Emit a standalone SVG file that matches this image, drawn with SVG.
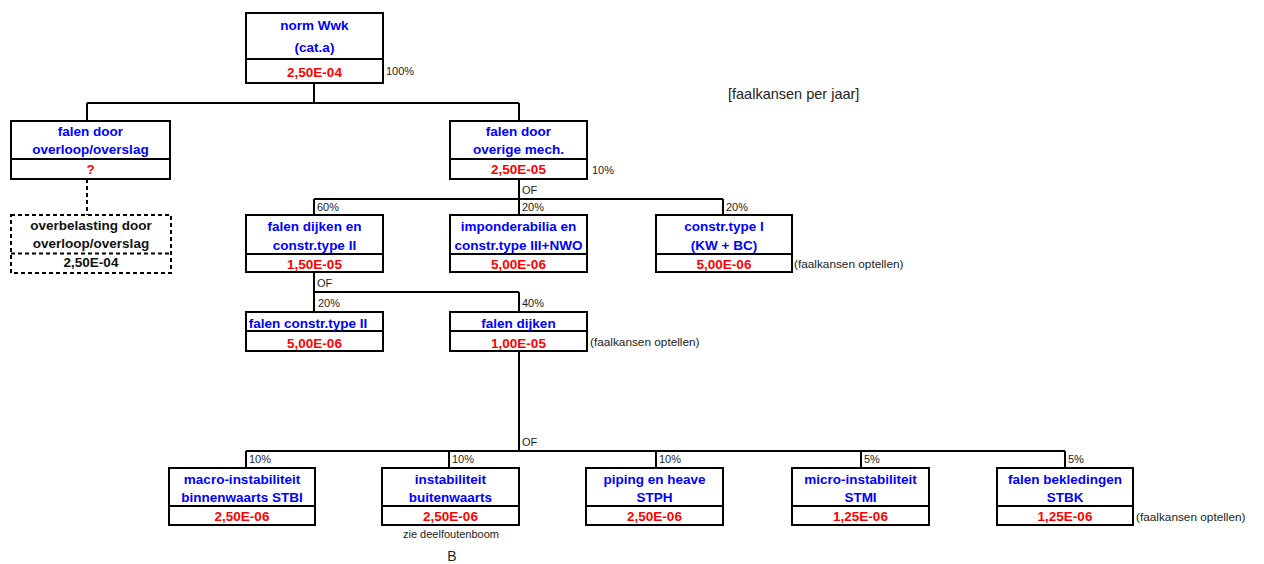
<svg xmlns="http://www.w3.org/2000/svg" width="1264" height="564" viewBox="0 0 1264 564">
<style>
.box{fill:#fff;stroke:#000;stroke-width:2}
.dbox{fill:#fff;stroke:#000;stroke-width:2;stroke-dasharray:4 3}
.div{stroke:#000;stroke-width:2;fill:none}
.ddiv{stroke:#000;stroke-width:2;fill:none;stroke-dasharray:4 3}
.ln{stroke:#000;stroke-width:2;fill:none}
.dln{stroke:#000;stroke-width:2;fill:none;stroke-dasharray:4 3}
text{font-family:"Liberation Sans",Arial,sans-serif}
.t{font-size:13.5px;font-weight:bold;fill:#0000ff;text-anchor:middle}
.v{font-size:13.5px;font-weight:bold;fill:#ff0000;text-anchor:middle}
.k{font-size:13.5px;font-weight:bold;fill:#111;text-anchor:middle}
.p{font-size:11px;fill:#222}
.n{font-size:11.8px;fill:#222}
</style>

<g id="connectors">
<path class="ln" d="M314 83V103M87 103H519M87 103V121M519 103V121"/>
<path class="dln" d="M87 179V215"/>
<path class="ln" d="M519 179V199M314 199H723M314 199V215M519 199V215M723 199V215"/>
<path class="ln" d="M314 272V292M314 292H519M314 292V312M519 292V312"/>
<path class="ln" d="M519 351V451M246 451H1065M246 451V468M449 451V468M656 451V468M861 451V468M1065 451V468"/>
<text class="p" x="386" y="75">100%</text>
<text class="p" x="592" y="174">10%</text>
<text class="p" x="522" y="194">OF</text>
<text class="p" x="317" y="211">60%</text>
<text class="p" x="522" y="211">20%</text>
<text class="p" x="726" y="211">20%</text>
<text class="p" x="317" y="287">OF</text>
<text class="p" x="318" y="307">20%</text>
<text class="p" x="522" y="307">40%</text>
<text class="p" x="522" y="446">OF</text>
<text class="p" x="249" y="463">10%</text>
<text class="p" x="452" y="463">10%</text>
<text class="p" x="659" y="463">10%</text>
<text class="p" x="864" y="463">5%</text>
<text class="p" x="1068" y="463">5%</text>
</g>

<g id="n-norm">
<rect class="box" x="246" y="13" width="137" height="70"/>
<path class="div" d="M246 59H383"/>
<text class="t" x="314.5" y="30">norm Wwk</text>
<text class="t" x="314.5" y="52">(cat.a)</text>
<text class="v" x="314.5" y="77">2,50E-04</text>
</g>

<g id="n-overloop">
<rect class="box" x="11" y="121" width="159" height="58"/>
<path class="div" d="M11 159H170"/>
<text class="t" x="90.5" y="136">falen door</text>
<text class="t" x="90.5" y="154">overloop/overslag</text>
<text class="v" x="90.5" y="174">?</text>
</g>

<g id="n-overbelasting">
<rect class="dbox" x="11" y="215" width="160" height="58"/>
<path class="ddiv" d="M11 253.5H171"/>
<text class="k" x="91" y="230">overbelasting door</text>
<text class="k" x="91" y="248">overloop/overslag</text>
<text class="k" x="91" y="267">2,50E-04</text>
</g>

<g id="n-overige">
<rect class="box" x="450" y="121" width="137" height="58"/>
<path class="div" d="M450 159H587"/>
<text class="t" x="518.5" y="136">falen door</text>
<text class="t" x="518.5" y="154">overige mech.</text>
<text class="v" x="518.5" y="173.5">2,50E-05</text>
</g>

<g id="n-dijken-constr">
<rect class="box" x="246" y="215" width="137" height="57"/>
<path class="div" d="M246 254H383"/>
<text class="t" x="314.5" y="231">falen dijken en</text>
<text class="t" x="314.5" y="249.5">constr.type II</text>
<text class="v" x="314.5" y="268.5">1,50E-05</text>
</g>

<g id="n-imponderabilia">
<rect class="box" x="450" y="215" width="137" height="57"/>
<path class="div" d="M450 254H587"/>
<text class="t" x="518.5" y="231">imponderabilia en</text>
<text class="t" x="518.5" y="249.5">constr.type III+NWO</text>
<text class="v" x="518.5" y="268.5">5,00E-06</text>
</g>

<g id="n-constr-I">
<rect class="box" x="656" y="215" width="136" height="57"/>
<path class="div" d="M656 254H792"/>
<text class="t" x="724" y="231">constr.type I</text>
<text class="t" x="724" y="249.5">(KW + BC)</text>
<text class="v" x="724" y="268.5">5,00E-06</text>
<text class="n" x="794" y="268">(faalkansen optellen)</text>
</g>

<g id="n-constr-II">
<rect class="box" x="246" y="312" width="137" height="39"/>
<path class="div" d="M246 331H383"/>
<text class="t" x="308" y="327.5">falen constr.type II</text>
<text class="v" x="314.5" y="347.5">5,00E-06</text>
</g>

<g id="n-dijken">
<rect class="box" x="450" y="312" width="137" height="39"/>
<path class="div" d="M450 331H587"/>
<text class="t" x="518.5" y="327.5">falen dijken</text>
<text class="v" x="518.5" y="347.5">1,00E-05</text>
<text class="n" x="590" y="346">(faalkansen optellen)</text>
</g>

<g id="n-stbi">
<rect class="box" x="169" y="468" width="146" height="57"/>
<path class="div" d="M169 506H315"/>
<text class="t" x="242" y="483.5">macro-instabiliteit</text>
<text class="t" x="242" y="502">binnenwaarts STBI</text>
<text class="v" x="242" y="521">2,50E-06</text>
</g>

<g id="n-buitenwaarts">
<rect class="box" x="382" y="468" width="137" height="57"/>
<path class="div" d="M382 506H519"/>
<text class="t" x="450.5" y="483.5">instabiliteit</text>
<text class="t" x="450.5" y="502">buitenwaarts</text>
<text class="v" x="450.5" y="521">2,50E-06</text>
<text class="n" x="451" y="538" text-anchor="middle" style="font-size:11px">zie deelfoutenboom</text>
<text x="452" y="561" text-anchor="middle" style="font-size:14px;fill:#222">B</text>
</g>

<g id="n-stph">
<rect class="box" x="586" y="468" width="137" height="57"/>
<path class="div" d="M586 506H723"/>
<text class="t" x="654.5" y="483.5">piping en heave</text>
<text class="t" x="654.5" y="502">STPH</text>
<text class="v" x="654.5" y="521">2,50E-06</text>
</g>

<g id="n-stmi">
<rect class="box" x="792" y="468" width="137" height="57"/>
<path class="div" d="M792 506H929"/>
<text class="t" x="860.5" y="483.5">micro-instabiliteit</text>
<text class="t" x="860.5" y="502">STMI</text>
<text class="v" x="860.5" y="521">1,25E-06</text>
</g>

<g id="n-stbk">
<rect class="box" x="997" y="468" width="136" height="57"/>
<path class="div" d="M997 506H1133"/>
<text class="t" x="1065" y="483.5">falen bekledingen</text>
<text class="t" x="1065" y="502">STBK</text>
<text class="v" x="1065" y="521">1,25E-06</text>
<text class="n" x="1136" y="521">(faalkansen optellen)</text>
</g>

<text x="728" y="99" style="font-size:14.5px;fill:#222">[faalkansen per jaar]</text>
</svg>
